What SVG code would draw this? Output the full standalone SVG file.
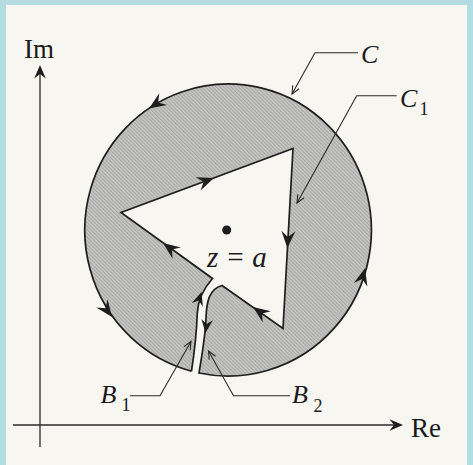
<svg xmlns="http://www.w3.org/2000/svg" xmlns:xlink="http://www.w3.org/1999/xlink" width="473" height="465" viewBox="0 0 473 465">
  <style>
    .ln { stroke: #1e1e1e; stroke-width: 1.7; stroke-linejoin: miter; }
    .ax { fill: none; stroke: #2a2a2a; stroke-width: 1.3; }
    .ld { fill: none; stroke: #2a2a2a; stroke-width: 1.1; }
    .ah { fill: #1e1e1e; }
    .txt { font-family: "Liberation Serif", "Times New Roman", serif; fill: #1a1a1a; }
    .it { font-style: italic; }
  </style>
  <defs>
    <pattern id="hatch" patternUnits="userSpaceOnUse" width="2.6" height="2.6" patternTransform="rotate(-45)">
      <rect width="2.6" height="2.6" fill="#c6c6c4"/>
      <line x1="0.6" y1="0" x2="0.6" y2="2.6" stroke="#9d9d9b" stroke-width="0.8"/>
    </pattern>
    <path id="dart" d="M0,0 L-17,-7 L-11,0 L-17,7 Z"/>
    <path id="sdart" d="M0,0 L-13.5,-5.8 L-9,0 L-13.5,5.8 Z"/>
    <path id="vee" d="M-8,-3.6 L0,0 L-8,3.6"/>
  </defs>

  <!-- frame -->
  <rect x="0" y="0" width="473" height="465" fill="#b3dde2"/>
  <rect x="6" y="5" width="461" height="460" fill="#f7f6f1"/>

  <!-- axes -->
  <g id="axes">
    <line class="ax" x1="40" y1="70" x2="40" y2="447"/>
    <line class="ax" x1="13" y1="425" x2="398" y2="425"/>
    <use href="#sdart" class="ah" transform="translate(40,65) rotate(-90)"/>
    <use href="#sdart" class="ah" transform="translate(403,425)"/>
    <text class="txt" x="24" y="57.5" font-size="27">Im</text>
    <text class="txt" x="411" y="436.5" font-size="27">Re</text>
  </g>

  <!-- shaded region bounded by C, B2, C1, B1 -->
  <g id="region">
    <path fill="url(#hatch)" class="ln"
      d="M191.5,371.2 A143.3,146 0 1 1 199,373
         C202,355 205.5,335 206,318 C206.5,302 209,289 222,285.5
         L283,328.5 L293,148.5 L121,212.5 L212.5,278.5
         C204,288 198,298 197.3,313 C196.5,335 194,355 191.5,371.2"/>
    <circle cx="226.7" cy="230" r="4.5" fill="#1e1e1e"/>
    <text class="txt it" x="207" y="266.5" font-size="29">z = a</text>
  </g>

  <!-- direction arrows -->
  <g id="arrows" class="ah">
    <use href="#dart" transform="translate(149,108.5) rotate(146.4)"/>
    <use href="#dart" transform="translate(112,317) rotate(53.7)"/>
    <use href="#dart" transform="translate(365,268.3) rotate(-75)"/>
    <use href="#dart" transform="translate(214,178) rotate(-20.4)"/>
    <use href="#dart" transform="translate(287.4,248) rotate(93.2)"/>
    <use href="#dart" transform="translate(253,307) rotate(215.5)"/>
    <use href="#dart" transform="translate(163,243) rotate(216.2)"/>
    <use href="#sdart" transform="translate(201.5,292) rotate(-72)"/>
    <use href="#sdart" transform="translate(205.5,333) rotate(97)"/>
  </g>

  <!-- leader lines -->
  <g id="connectors">
    <polyline class="ld" points="358,52.7 315,52.7 292,94"/>
    <use href="#vee" class="ld" transform="translate(292,94) rotate(119.1)"/>
    <polyline class="ld" points="396.7,95.7 356.7,95.7 297,203"/>
    <use href="#vee" class="ld" transform="translate(297,203) rotate(119.1)"/>
    <polyline class="ld" points="130,395.7 160,395.7 191,341.5"/>
    <use href="#vee" class="ld" transform="translate(191,341.5) rotate(-60.2)"/>
    <polyline class="ld" points="290,395.7 233.5,395.7 208.5,351"/>
    <use href="#vee" class="ld" transform="translate(208.5,351) rotate(-119.2)"/>
  </g>

  <!-- labels -->
  <g id="label-C">
    <text class="txt it" x="361" y="63.3" font-size="26">C</text>
  </g>
  <g id="label-C1">
    <text class="txt it" x="400" y="106.7" font-size="26">C</text>
    <text class="txt" x="419.5" y="114.5" font-size="18">1</text>
  </g>
  <g id="label-B1">
    <text class="txt it" x="100.5" y="403.3" font-size="26">B</text>
    <text class="txt" x="121.5" y="410.5" font-size="18">1</text>
  </g>
  <g id="label-B2">
    <text class="txt it" x="292" y="403.3" font-size="26">B</text>
    <text class="txt" x="313.5" y="411.5" font-size="18">2</text>
  </g>
</svg>
